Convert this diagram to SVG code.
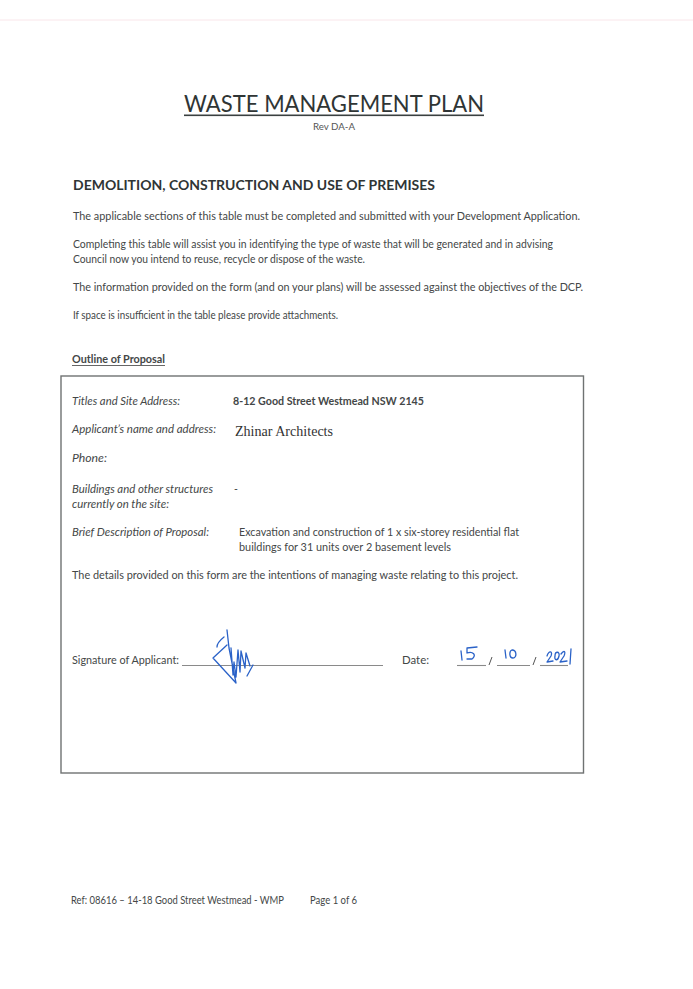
<svg xmlns="http://www.w3.org/2000/svg" width="693" height="989" viewBox="0 0 693 989">
<style>
text{font-family:"Lato","Open Sans","Liberation Sans",sans-serif;fill:#444747;font-size:10.5px}
.i{font-style:italic}
.sig{fill:none;stroke:#2a62c8;stroke-width:1.3;stroke-linecap:round;stroke-linejoin:round}
.ln{stroke:#8a8a8a;stroke-width:1.1;fill:none}
</style>
<rect width="693" height="989" fill="#fff"/>
<line x1="0" y1="20" x2="693" y2="20" stroke="#f9e6ea" stroke-width="1"/>
<g id="header">
<text x="184" y="112" style="font-size:24px;fill:#2f3535" textLength="300" lengthAdjust="spacingAndGlyphs">WASTE MANAGEMENT PLAN</text>
<rect x="184" y="114.500" width="300" height="1.6" fill="#3a4040"/>
<text x="313" y="130" textLength="42" lengthAdjust="spacingAndGlyphs" style="font-size:10px;fill:#555">Rev DA-A</text>
<text x="73" y="190" style="font-size:14px;font-weight:700;fill:#2f3535" textLength="362" lengthAdjust="spacingAndGlyphs">DEMOLITION, CONSTRUCTION AND USE OF PREMISES</text>
</g>
<g id="intro">
<text x="73" y="220" textLength="507" lengthAdjust="spacingAndGlyphs">The applicable sections of this table must be completed and submitted with your Development Application.</text>
<text x="73" y="248" textLength="480" lengthAdjust="spacingAndGlyphs">Completing this table will assist you in identifying the type of waste that will be generated and in advising</text>
<text x="73" y="263" textLength="292" lengthAdjust="spacingAndGlyphs">Council now you intend to reuse, recycle or dispose of the waste.</text>
<text x="73" y="291" textLength="510" lengthAdjust="spacingAndGlyphs">The information provided on the form (and on your plans) will be assessed against the objectives of the DCP.</text>
<text x="73" y="319" textLength="265" lengthAdjust="spacingAndGlyphs">If space is insufficient in the table please provide attachments.</text>
<text x="72" y="363" style="font-weight:700" textLength="93" lengthAdjust="spacingAndGlyphs">Outline of Proposal</text>
<rect x="72" y="365" width="93" height="0.9" fill="#555"/>
</g>
<g id="form-box"><rect x="61" y="376" width="522.500" height="397" fill="#fff" stroke="#6f7272" stroke-width="1.4"/></g>
<g id="titles">
<text class="i" x="72" y="405" textLength="108" lengthAdjust="spacingAndGlyphs">Titles and Site Address:</text>
<text x="233" y="405" style="font-weight:700" textLength="191" lengthAdjust="spacingAndGlyphs">8-12 Good Street Westmead NSW 2145</text>
</g>
<g id="applicant">
<text class="i" x="72" y="433" textLength="144" lengthAdjust="spacingAndGlyphs">Applicant’s name and address:</text>
<text x="235" y="436" style="font-family:'Liberation Serif',serif;font-size:14px;fill:#333" textLength="98" lengthAdjust="spacingAndGlyphs">Zhinar Architects</text>
</g>
<g id="phone"><text class="i" x="72" y="462" textLength="35" lengthAdjust="spacingAndGlyphs">Phone:</text></g>
<g id="buildings">
<text class="i" x="72" y="493" textLength="141" lengthAdjust="spacingAndGlyphs">Buildings and other structures</text>
<text class="i" x="72" y="508" textLength="97" lengthAdjust="spacingAndGlyphs">currently on the site:</text>
<text x="234" y="493">-</text>
</g>
<g id="description">
<text class="i" x="72" y="536" textLength="137" lengthAdjust="spacingAndGlyphs">Brief Description of Proposal:</text>
<text x="239" y="536" textLength="280" lengthAdjust="spacingAndGlyphs">Excavation and construction of 1 x six-storey residential flat</text>
<text x="239" y="551" textLength="212" lengthAdjust="spacingAndGlyphs">buildings for 31 units over 2  basement levels</text>
</g>
<g id="details"><text x="72" y="579" textLength="446" lengthAdjust="spacingAndGlyphs">The details provided on this form are the intentions of managing waste relating to this project.</text></g>
<g id="signature">
<text x="72" y="664" textLength="107" lengthAdjust="spacingAndGlyphs">Signature of Applicant:</text>
<line class="ln" x1="182" y1="665.500" x2="383" y2="665.500"/>
<path class="sig" d="M227 630 L229 648 L236 683 M224 637 C219 641 217 644 217 647 M227 645 L213 658 L236 683 M231 648 L233 675 L234 662 L236 677 L238 650 L240 672 L241 651 L245 668 L246 653 L250 666 M253 665 L247 676"/>
</g>
<g id="date">
<text x="402" y="664" textLength="27" lengthAdjust="spacingAndGlyphs">Date:</text>
<line class="ln" x1="457" y1="665.500" x2="486" y2="665.500"/>
<line class="ln" x1="497" y1="665.500" x2="530" y2="665.500"/>
<line class="ln" x1="540" y1="665.500" x2="568" y2="665.500"/>
<path d="M489 665 L492 657 M533 665 L536 657" stroke="#555" stroke-width="1"/>
<path class="sig" d="M461 651 L462 660 M467 648 L467 653 C473 651 477 655 472 659 L467 659 M467 648 L477 647 M505 650 L506 658 M512 650 C509 651 509 658 513 658 C517 658 517 650 512 650 M547 656 C549 650 553 651 551 656 L547 662 L553 661 M555 656 C555 651 560 651 559 656 C558 661 554 661 555 656 M561 654 C564 650 566 651 564 656 L560 662 L567 661 M571 649 L570 664"/>
</g>
<g id="footer">
<text x="71" y="904" textLength="213" lengthAdjust="spacingAndGlyphs">Ref: 08616 – 14-18 Good Street Westmead - WMP</text>
<text x="310" y="904" textLength="47" lengthAdjust="spacingAndGlyphs">Page 1 of 6</text>
</g>
</svg>
